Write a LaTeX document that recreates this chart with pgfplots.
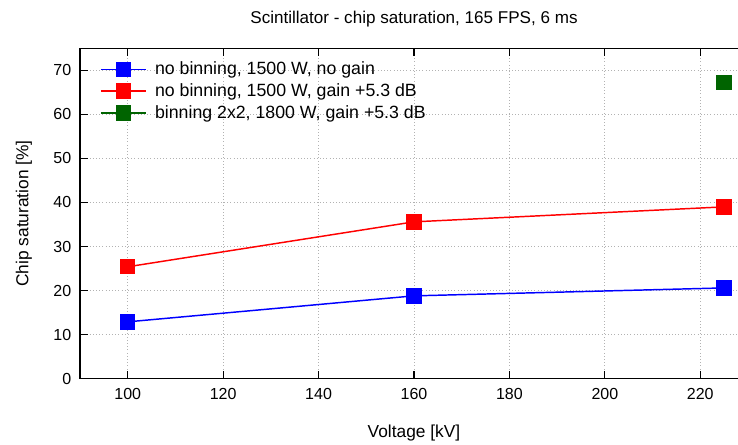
\documentclass[border=0pt]{standalone}
\usepackage{fontspec}
\setmainfont{Liberation Sans}
\usepackage{pgfplots}
\pgfplotsset{compat=1.18}

\definecolor{gpblue}{RGB}{0,0,255}
\definecolor{gpred}{RGB}{255,0,0}
\definecolor{gpgreen}{RGB}{0,100,0}

\begin{document}
\begin{tikzpicture}
\clip (-60pt,-49pt) rectangle (493.5pt,284pt);
\begin{axis}[
  scale only axis,
  width=501pt, height=247.8pt,
  at={(0,0)}, anchor=south west,
  xmin=90, xmax=230,
  ymin=0, ymax=75,
  xtick={100,120,...,220},
  ytick={0,10,...,70},
  tick align=inside,
  major tick length=6pt,
  tick style={black, line width=0.8pt},
  axis line style={line width=0.8pt},
  grid=major,
  grid style={gray!60, dotted, line width=0.6pt},
  /pgf/number format/assume math mode=true,
  ticklabel style={font=\fontsize{12pt}{14pt}\selectfont},
  xticklabel style={yshift=-4pt},
  yticklabel style={xshift=-3pt},
  title={Scintillator - chip saturation, 165 FPS, 6 ms},
  title style={at={(axis description cs:0.5,1)}, anchor=south, yshift=6.5pt, font=\fontsize{12.8pt}{15pt}\selectfont},
  xlabel={Voltage [kV]},
  ylabel={Chip saturation [\%]},
  label style={font=\fontsize{13pt}{15pt}\selectfont},
  xlabel style={at={(axis description cs:0.5,0)}, anchor=center, yshift=-41pt},
  ylabel style={at={(axis description cs:-0.084,0.5)}, anchor=center},
  legend style={draw=none, fill=none,
    at={(0,1)}, anchor=north west,
    xshift=12pt, yshift=-6pt, row sep=1.2pt,
    /tikz/every odd column/.append style={column sep=4pt},
    font=\fontsize{13.3pt}{15pt}\selectfont},
  legend cell align=left,
  legend image code/.code={
    \draw[line width=1.1pt, mark repeat=2, mark phase=2]
      plot coordinates {(0pt,0pt)(17pt,0pt)(34pt,0pt)};
  },
]
\addplot[gpblue, line width=1.1pt, mark=square*, mark size=5.2pt, mark options={solid}]
  coordinates {(100,12.9) (160,18.8) (225,20.6)};
\addlegendentry{no binning, 1500 W, no gain}
\addplot[gpred, line width=1.1pt, mark=square*, mark size=5.2pt, mark options={solid}]
  coordinates {(100,25.4) (160,35.6) (225,39.0)};
\addlegendentry{no binning, 1500 W, gain +5.3 dB}
\addplot[gpgreen, line width=1.1pt, mark=square*, mark size=5.2pt, mark options={solid}]
  coordinates {(225,67.3)};
\addlegendentry{binning 2x2, 1800 W, gain +5.3 dB}
\end{axis}
\end{tikzpicture}
\end{document}
